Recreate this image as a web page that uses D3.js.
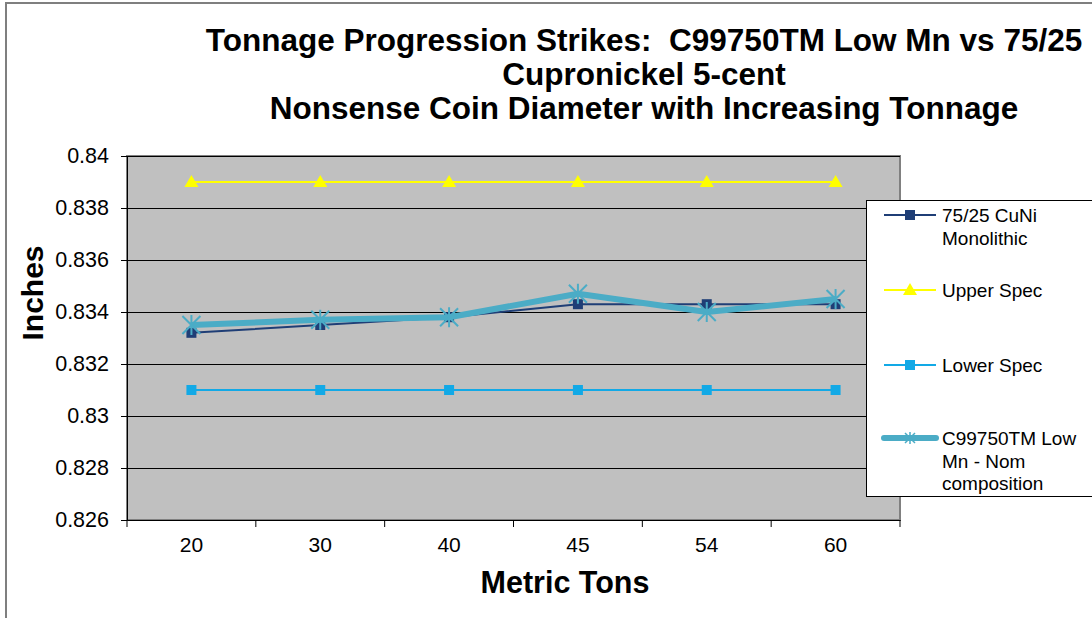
<!DOCTYPE html>
<html>
<head>
<meta charset="utf-8">
<script src="https://cdn.jsdelivr.net/npm/d3@7"></script>
<style>
  body { margin: 0; background: #fff; }
  svg { display: block; font-family: "Liberation Sans", Arial, sans-serif; }
  text { white-space: pre; }
</style>
</head>
<body>
<div id="chart"></div>
<script>
// data
var tons       = ["20", "30", "40", "45", "54", "60"];
var cuni       = [0.8332, 0.8335, 0.8338, 0.8343, 0.8343, 0.8343];
var upperSpec  = [0.839, 0.839, 0.839, 0.839, 0.839, 0.839];
var lowerSpec  = [0.831, 0.831, 0.831, 0.831, 0.831, 0.831];
var c99750     = [0.8335, 0.8337, 0.8338, 0.8347, 0.8340, 0.8345];
var yTicks     = [0.826, 0.828, 0.83, 0.832, 0.834, 0.836, 0.838, 0.84];
var titleLines = [
  "Tonnage Progression Strikes:  C99750TM Low Mn vs 75/25",
  "Cupronickel 5-cent",
  "Nonsense Coin Diameter with Increasing Tonnage"
];

var W = 1092, H = 618;
var plot = {left: 127, right: 900, top: 156, bottom: 520};

var svg = d3.select("#chart").append("svg")
  .attr("width", W).attr("height", H);

// outer chart frame (cut off by the window)
svg.append("path")
  .attr("d", "M6," + H + "V3H" + (W + 2))
  .attr("fill", "none").attr("stroke", "#7f7f7f").attr("stroke-width", 2);

// title
svg.append("g").selectAll("text")
  .data(titleLines).enter().append("text")
  .attr("x", 644)
  .attr("y", function(d, i){ return 51 + i * 34; })
  .attr("text-anchor", "middle")
  .attr("font-size", 31.5).attr("font-weight", "bold")
  .text(function(d){ return d; });

var x = d3.scaleBand().domain(tons).range([plot.left, plot.right]);
var y = d3.scaleLinear().domain([0.826, 0.84]).range([plot.bottom, plot.top]);

// plot area
svg.append("rect")
  .attr("x", plot.left).attr("y", plot.top)
  .attr("width", plot.right - plot.left).attr("height", plot.bottom - plot.top)
  .attr("fill", "#c0c0c0").attr("stroke", "#808080").attr("stroke-width", 2);

// gridlines
svg.append("g").selectAll("line")
  .data(yTicks.slice(1)).enter().append("line")
  .attr("x1", plot.left).attr("x2", plot.right)
  .attr("y1", function(d){ return Math.round(y(d)) + 0.5; })
  .attr("y2", function(d){ return Math.round(y(d)) + 0.5; })
  .attr("stroke", "#000").attr("stroke-width", 1);

// y axis
var yAxis = svg.append("g")
  .attr("transform", "translate(" + plot.left + ",0)")
  .call(d3.axisLeft(y).tickValues(yTicks).tickSize(6).tickPadding(12)
    .tickFormat(function(d){ return String(+d.toFixed(3)); }));
yAxis.selectAll("text").attr("font-size", 21.5).attr("fill", "#000")
  .attr("font-family", "Liberation Sans, Arial, sans-serif");
yAxis.select(".domain").attr("stroke", "#000");

// x axis
var xAxis = svg.append("g")
  .attr("transform", "translate(0," + plot.bottom + ")")
  .call(d3.axisBottom(x).tickSize(0).tickPadding(17));
xAxis.selectAll("text").attr("font-size", 21).attr("fill", "#000")
  .attr("font-family", "Liberation Sans, Arial, sans-serif");
xAxis.select(".domain").attr("stroke", "#000");
var bounds = tons.map(function(t){ return x(t); }).concat([plot.right]);
xAxis.selectAll(".bound").data(bounds).enter().append("line")
  .attr("class", "bound")
  .attr("x1", function(d){ return d; }).attr("x2", function(d){ return d; })
  .attr("y1", 0).attr("y2", 7).attr("stroke", "#000");

// axis titles
svg.append("text")
  .attr("transform", "translate(43,293) rotate(-90)")
  .attr("text-anchor", "middle")
  .attr("font-size", 30).attr("font-weight", "bold")
  .text("Inches");
svg.append("text")
  .attr("x", 565).attr("y", 593)
  .attr("text-anchor", "middle")
  .attr("font-size", 30.5).attr("font-weight", "bold")
  .text("Metric Tons");

var series = [
  {name: ["75/25 CuNi", "Monolithic"], values: cuni, color: "#1f3e76", width: 2, marker: "square", fill: "#1f3e76", legendY: 215},
  {name: ["Upper Spec"], values: upperSpec, color: "#ffff00", width: 2, marker: "triangle", fill: "#ffff00", legendY: 290},
  {name: ["Lower Spec"], values: lowerSpec, color: "#12a9e6", width: 2, marker: "square", fill: "#12a9e6", legendY: 365},
  {name: ["C99750TM Low", "Mn - Nom", "composition"], values: c99750, color: "#4bacc6", width: 6, marker: "star", fill: "none", legendY: 438}
];

var line = d3.line()
  .x(function(d, i){ return x(tons[i]) + x.bandwidth() / 2; })
  .y(function(d){ return y(d); });

function drawMarker(g, s, cx, cy) {
  if (s.marker == "square") {
    g.append("rect")
      .attr("x", cx - 5).attr("y", cy - 5).attr("width", 10).attr("height", 10)
      .attr("fill", s.fill);
  } else if (s.marker == "triangle") {
    g.append("path")
      .attr("d", "M" + cx + "," + (cy - 7) + "L" + (cx + 7) + "," + (cy + 5) + "L" + (cx - 7) + "," + (cy + 5) + "Z")
      .attr("fill", s.fill);
  } else {
    var r = 9;
    g.append("path")
      .attr("d", "M" + (cx - r) + "," + (cy - r) + "L" + (cx + r) + "," + (cy + r) +
                 "M" + (cx - r) + "," + (cy + r) + "L" + (cx + r) + "," + (cy - r) +
                 "M" + cx + "," + (cy - r - 1) + "L" + cx + "," + (cy + r + 1))
      .attr("stroke", s.color).attr("stroke-width", 2).attr("fill", "none");
  }
}

series.forEach(function(s){
  var g = svg.append("g");
  g.append("path")
    .datum(s.values)
    .attr("d", line)
    .attr("fill", "none")
    .attr("stroke", s.color)
    .attr("stroke-width", s.width)
    .attr("stroke-linejoin", "round");
  s.values.forEach(function(v, i){
    drawMarker(g, s, x(tons[i]) + x.bandwidth() / 2, y(v));
  });
});

// legend
var legend = svg.append("g");
legend.append("rect")
  .attr("x", 866.5).attr("y", 200.5).attr("width", 240).attr("height", 296)
  .attr("fill", "#fff").attr("stroke", "#000").attr("stroke-width", 1);

series.forEach(function(s){
  var ly = s.legendY;
  var g = legend.append("g");
  g.append("line")
    .attr("x1", 884).attr("x2", 936).attr("y1", ly).attr("y2", ly)
    .attr("stroke", s.color).attr("stroke-width", s.width)
    .attr("stroke-linecap", s.width > 3 ? "round" : "butt");
  if (s.marker == "star") {
    g.append("path")
      .attr("d", "M905," + (ly - 5) + "L915," + (ly + 5) + "M905," + (ly + 5) + "L915," + (ly - 5) + "M910," + (ly - 6) + "L910," + (ly + 6))
      .attr("stroke", s.color).attr("stroke-width", 1.5);
  } else {
    drawMarker(g, s, 910, ly);
  }
  g.selectAll("text").data(s.name).enter().append("text")
    .attr("x", 942)
    .attr("y", function(d, i){ return ly + 7 + i * 22.5; })
    .attr("font-size", 19)
    .text(function(d){ return d; });
});
</script>
</body>
</html>
